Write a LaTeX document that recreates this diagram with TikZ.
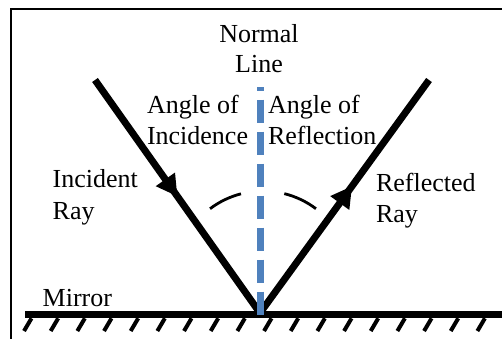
\documentclass[tikz,border=0pt]{standalone}
\usepackage{fontspec}
\setmainfont{Liberation Serif}
\newfontfamily\timesfont{Liberation Serif}
\usetikzlibrary{arrows.meta,decorations.markings}
\definecolor{normalblue}{RGB}{79,129,189}
\begin{document}
\begin{tikzpicture}[x=1pt,y=-1pt,
  lbl/.style={font=\timesfont\fontsize{26}{30}\selectfont, inner sep=0pt, outer sep=0pt},
  frameline/.style={line width=2pt},
  ray/.style={line width=7pt, line cap=butt},
  mirrorline/.style={line width=7.6pt},
  hatch/.style={line width=4pt},
  normalline/.style={normalblue, line width=7pt, dash pattern=on 23.5pt off 8.5pt, dash phase=19.8pt},
  anglearc/.style={line width=2.8pt},
  midarrow/.style={postaction={decorate}, decoration={markings, mark=at position #1 with {\arrow{Triangle[length=21pt,width=22pt]}}}}
]
\useasboundingbox (0,0) rectangle (502,338);
\clip (0,0) rectangle (502,338);

% frame
\draw[frameline] (11,360) -- (11,9.3) -- (520,9.3);

% key points
\coordinate (P) at (260,313);
\coordinate (I) at (95,80);
\coordinate (R) at (429,80);
\coordinate (Ntop) at (260.5,87.3);
\coordinate (Nbot) at (260.5,315);
\coordinate (ML) at (25,314.5);
\coordinate (MR) at (515,314.5);
\coordinate (C) at (263,279);

% mirror
\draw[mirrorline] (ML) -- (MR);
\foreach \k in {0,...,18}
  \draw[hatch] ({24+26.67*\k},331) -- ++(7.5,-12.7);

% rays
\draw[ray, midarrow=0.5] (I) -- (P);
\draw[ray, midarrow=0.545] (P) -- (R);

% angle arcs
\begin{scope}[shift={(C)}, y=1pt]
  \draw[anglearc] (127:88) arc[start angle=127, end angle=104.5, radius=88];
  \draw[anglearc] (76:88) arc[start angle=76, end angle=53, radius=88];
\end{scope}

% normal
\draw[normalline] (Ntop) -- (Nbot);

% labels
\node[lbl, anchor=base] (nl1) at (259,42.3) {Normal};
\node[lbl, anchor=base] (nl2) at (259,72.5) {Line};
\node[lbl, anchor=base west] (ai1) at (147,113.3) {Angle of};
\node[lbl, anchor=base west] (ai2) at (147,144) {Incidence};
\node[lbl, anchor=base west] (ar1) at (268,113.3) {Angle of};
\node[lbl, anchor=base west] (ar2) at (268,144) {Reflection};
\node[lbl, anchor=base west] (ir1) at (52.7,187) {Incident};
\node[lbl, anchor=base west] (ir2) at (52.7,219.3) {Ray};
\node[lbl, anchor=base west] (rr1) at (376,191) {Reflected};
\node[lbl, anchor=base west] (rr2) at (376,222.7) {Ray};
\node[lbl, anchor=base west] (mir) at (42.7,306.7) {Mirror};
\end{tikzpicture}
\end{document}
